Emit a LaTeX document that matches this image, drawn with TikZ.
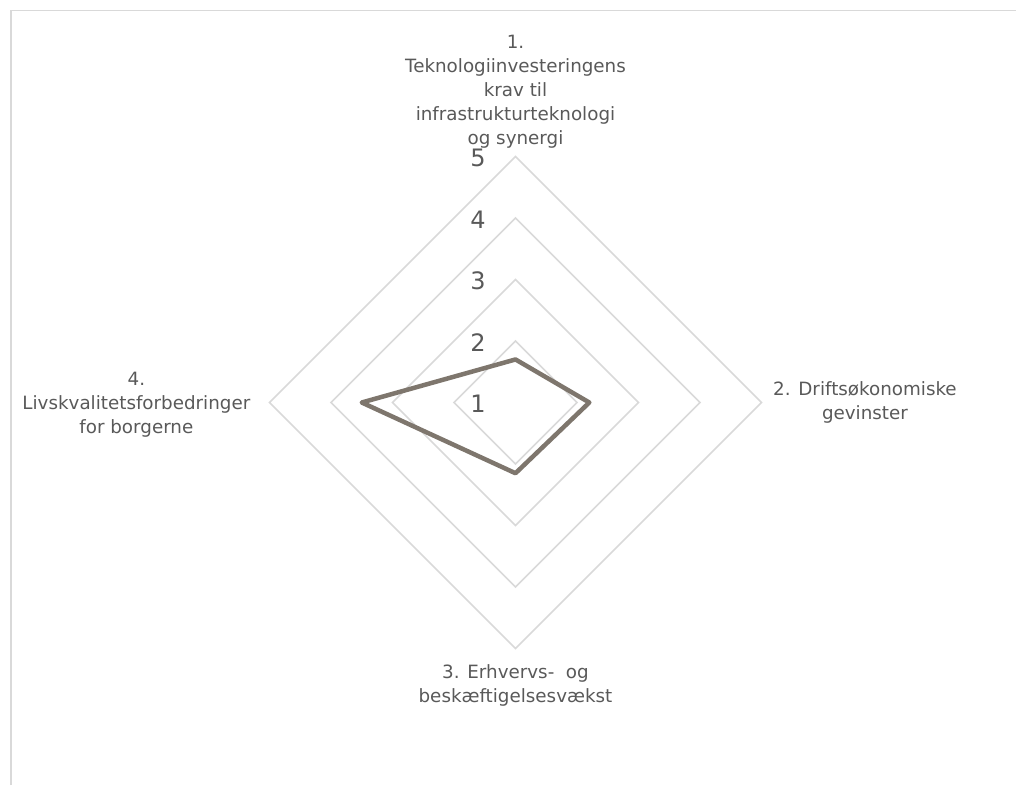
\documentclass[tikz,border=0pt]{standalone}
\usepackage{fontspec}
\setmainfont{DejaVu Sans}
\usepackage{tikz}
\usetikzlibrary{positioning}
\definecolor{gridgray}{HTML}{D9D9D9}
\definecolor{textgray}{HTML}{595959}
\definecolor{seriesbrown}{HTML}{7E766D}

\begin{document}
\begin{tikzpicture}[
    x=1pt, y=1pt,
    font=\fontsize{18.3}{24}\selectfont,
    ring/.style={
		draw=gridgray,
		line width=1.5pt
	},
	series/.style={
		draw=seriesbrown,
		line width=4.5pt,
		line join=round
	},
	catlabel/.style={
		text=textgray,
		align=center,
		inner sep=2pt
	},
	ticklabel/.style={
		text=textgray,
		font=\fontsize{24}{28}\selectfont,
		inner sep=0pt
	}
  ]
  \useasboundingbox (-515.5,-382.5) rectangle (500.5,402.5);
  \def\unit{61.5}

  % chart area border
  \draw [gridgray, line width=1.5pt] (-504.7,-382.5) |- (500.5,392.2);

  % the grid rings
  \foreach \v in {2,...,5} {
    \draw [ring] (0,{(\v-1)*\unit}) -- ({(\v-1)*\unit},0) -- (0,{-(\v-1)*\unit})
      -- ({-(\v-1)*\unit},0) -- cycle;
  }
  \coordinate (top5) at (0,{4*\unit});
  \coordinate (right5) at ({4*\unit},0);
  \coordinate (bottom5) at (0,{-4*\unit});
  \coordinate (left5) at ({-4*\unit},0);

  \foreach \v in {1,...,5}
    \node [ticklabel] (tick\v) at (-37.5,{(\v-1)*\unit-1.5}) {\v};

  % the categories
  \node [catlabel, above=6pt of top5] (cat1)
 {1.\\Teknologiinvesteringens\\krav til\\infrastrukturteknologi\\og synergi};
  \node [catlabel, right=9.5pt of right5] (cat2)
 {2. Driftsøkonomiske\\gevinster};
  \node [catlabel, below=13.5pt of bottom5] (cat3)
 {3. Erhvervs-\ \ og\\beskæftigelsesvækst};
  \node [catlabel, left=17pt of left5, yshift=-2pt] (cat4)
 {4.\\Livskvalitetsforbedringer\\for borgerne};

  % the series
  \coordinate (p1) at (0,{0.7*\unit});
  \coordinate (p2) at ({1.2*\unit},0);
  \coordinate (p3) at (0,{-1.15*\unit});
  \coordinate (p4) at ({-2.5*\unit},0);
  \draw [series] (p1) -- (p2) -- (p3) -- (p4) -- cycle;

\end{tikzpicture}
\end{document}
